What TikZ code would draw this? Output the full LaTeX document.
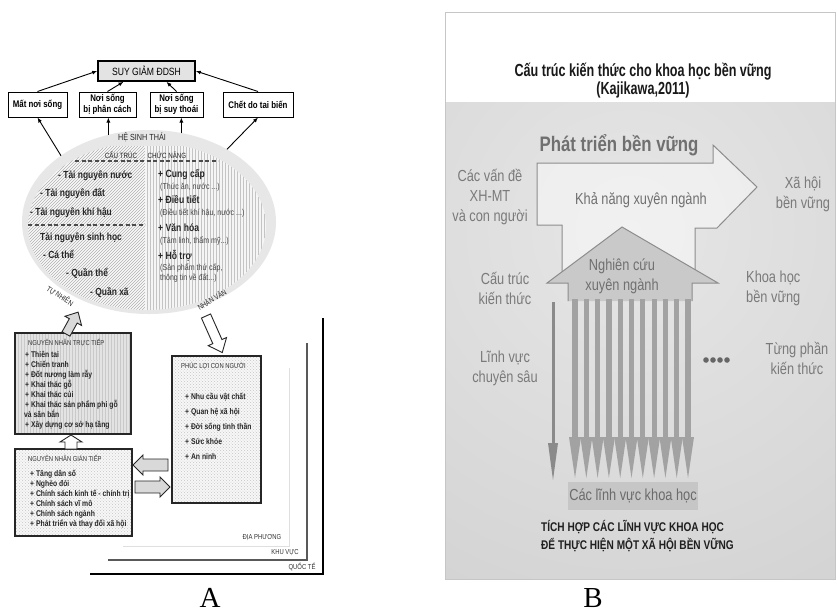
\documentclass[tikz,border=0pt]{standalone}
\usepackage{fontspec}
\setmainfont{Liberation Sans}
\newfontfamily\fa[FakeStretch=0.82]{Liberation Sans}
\newfontfamily\fb[FakeStretch=0.8]{Liberation Sans}
\newfontfamily\fc[FakeStretch=0.72]{Liberation Sans}
\newfontfamily\fser{Liberation Serif}
\usetikzlibrary{arrows.meta,patterns,shapes.geometric}
\newcommand\setsz[2]{\fontsize{#1}{#2}\selectfont}
% block arrow: tail x, tail y, angle, length, shaft width, head width, head length, style
\newcommand\blockarrow[8]{%
  \draw[#8, shift={(#1,#2)}, rotate=#3]
    (0,{-#5/2}) -- ({#4-#7},{-#5/2}) -- ({#4-#7},{-#6/2}) -- (#4,0)
    -- ({#4-#7},{#6/2}) -- ({#4-#7},{#5/2}) -- (0,{#5/2}) -- cycle;}
\definecolor{ellbg}{HTML}{E7E7E7}
\definecolor{hatchl}{HTML}{B0B0B0}
\definecolor{hatchr}{HTML}{C4C4C4}
\definecolor{bgin}{HTML}{E6E6E6}
\definecolor{bgout}{HTML}{C6C6C6}
\definecolor{btext}{HTML}{7A7A7A}
\definecolor{barc}{HTML}{A2A2A2}
\definecolor{sglc}{HTML}{8A8A8A}
\definecolor{housec}{HTML}{C9C9C9}
\definecolor{outl}{HTML}{8C8C8C}
\definecolor{labbox}{HTML}{C6C6C6}
\begin{document}
\begin{tikzpicture}[x=1pt,y=-1pt,
  conn/.style={-{Latex[length=5pt,width=4pt]}, line width=0.9pt},
  topbox/.style={draw, line width=1pt, fill=white, inner sep=0pt, align=center, minimum height=25, font=\fa\bfseries\setsz{9.6}{11.5}},
  itm/.style={anchor=west, inner sep=0pt, text height=6pt, text depth=1.5pt, font=\fa\bfseries\setsz{8.3}{10}, text=black!85},
  ttl/.style={anchor=west, inner sep=0pt, text height=5pt, text depth=0pt, font=\fa\setsz{7.1}{8}, text=black!80},
  ell/.style={anchor=west, inner sep=0pt, text height=7pt, text depth=2pt, font=\fa\bfseries\setsz{10.3}{12}, text=black!85},
  fn/.style={anchor=west, inner sep=0pt, text height=7pt, text depth=2pt, font=\fa\bfseries\setsz{10.5}{12}, text=black!85},
  fnsub/.style={anchor=west, inner sep=0pt, text height=6pt, text depth=1.5pt, font=\fa\setsz{8.6}{10}, text=black!72},
  hdr/.style={inner sep=0pt, text height=5.5pt, text depth=0pt, font=\fa\setsz{7.6}{8}, text=black!85},
  lvl/.style={inner sep=0pt, font=\fa\setsz{7.2}{8}, text=black!80},
  causebox/.style={draw=black!85, line width=1.1pt, inner sep=0pt},
  btxt/.style={inner sep=0pt, align=center, font=\fb\setsz{16}{20}, text=btext},
]
\useasboundingbox (0,0) rectangle (837,614);
\fill[white] (0,0) rectangle (837,614);

% ---------- A: scale frames ----------
\draw[gray!25, line width=1pt] (123,546) -- (289,546) -- (289,368);
\draw[black!65, line width=1.4pt] (108,560) -- (307,560) -- (307,343);
\draw[black, line width=1.8pt] (90,574) -- (323,574) -- (323,318);
\node[lvl] (loc) at (262,538) {ĐỊA PHƯƠNG};
\node[lvl] (reg) at (285,553) {KHU VỰC};
\node[lvl] (int) at (302,567) {QUỐC TẾ};

% ---------- A: ecosystem ellipse ----------
\node[ellipse, fill=ellbg, minimum width=254, minimum height=184, inner sep=0pt, outer sep=0pt] (eco) at (149,222) {};
\begin{scope}
  \clip (147,226) ellipse [x radius=119, y radius=84];
  \clip (0,146) rectangle (400,330);
  \fill[gray!4] (0,140) rectangle (145,330);
  \fill[pattern=north east lines, pattern color=hatchl] (0,140) rectangle (145,330);
  \fill[gray!8] (145,140) rectangle (300,330);
  \fill[pattern=vertical lines, pattern color=hatchr] (145,140) rectangle (300,330);
\end{scope}
\draw[black!70, line width=1.1pt, dash pattern=on 4pt off 2.5pt] (75,161) -- (218,161);
\draw[black!70, line width=1.1pt, dash pattern=on 4pt off 2.5pt] (28,225) -- (145,225);

\node[hdr, font=\fa\setsz{8.8}{9}] (hst) at (142,138) {HỆ SINH THÁI};
\node[hdr] (ct) at (121,156) {CẤU TRÚC};
\node[hdr] (cn) at (167,156) {CHỨC NĂNG};

\node[ell] (r1) at (58,176) {- Tài nguyên nước};
\node[ell] (r2) at (40,194) {- Tài nguyên đất};
\node[ell] (r3) at (30,213) {- Tài nguyên khí hậu};
\node[ell] (r4) at (40,238) {Tài nguyên sinh học};
\node[ell] (r5) at (43,256) {- Cá thể};
\node[ell] (r6) at (66,274) {- Quần thể};
\node[ell] (r7) at (90,293) {- Quần xã};

\node[fn] (f1) at (158,175) {+ Cung cấp};
\node[fnsub] (f1s) at (160,187) {(Thức ăn, nước ...)};
\node[fn] (f2) at (158,201) {+ Điều tiết};
\node[fnsub] (f2s) at (160,213) {(Điều tiết khí hậu, nước ...)};
\node[fn] (f3) at (158,229) {+ Văn hóa};
\node[fnsub] (f3s) at (160,241) {(Tâm linh, thẩm mỹ...)};
\node[fn] (f4) at (158,257) {+ Hỗ trợ};
\node[fnsub] (f4s) at (160,268) {(Sản phẩm thứ cấp,};
\node[fnsub] (f4t) at (160,278) {thông tin về đất...)};

\node[hdr, rotate=-33] (nat) at (60,296) {TỰ NHIÊN};
\node[hdr, rotate=32] (hum) at (212,300) {NHÂN VĂN};

% ---------- A: impacts ----------
\node[draw, line width=1.6pt, fill=gray!22, minimum width=97, minimum height=20, inner sep=0pt, font=\fa\setsz{10.5}{11}] (suy) at (146.5,71) {SUY GIẢM ĐDSH};
\node[topbox, minimum width=59] (b1) at (37.5,104.5) {Mất nơi sống};
\node[topbox, minimum width=57] (b2) at (107.5,104.5) {Nơi sống\\bị phân cách};
\node[topbox, minimum width=53] (b3) at (176.5,104.5) {Nơi sống\\bị suy thoái};
\node[topbox, minimum width=70] (b4) at (258,104.5) {Chết do tai biến};

\draw[conn] (b1.north) -- (suy.west);
\draw[conn] (b2.north) -- ([xshift=-23pt]suy.south);
\draw[conn] (b3.north) -- ([xshift=20pt]suy.south);
\draw[conn] (b4.north) -- (suy.east);

\draw[conn] (eco.143) -- (b1.south);
\draw[conn] (eco.115) -- (eco.115 |- b2.south);
\draw[conn] (eco.70) -- (eco.70 |- b3.south);
\draw[conn] (eco.43) -- (b4.south);

% ---------- A: causes and well-being ----------
\node[causebox, minimum width=116, minimum height=101, preaction={fill=gray!22}, pattern=vertical lines, pattern color=gray!42] (tt) at (73,383.5) {};
\node[ttl] (ttt) at (28,343) {NGUYÊN NHÂN TRỰC TIẾP};
\node[itm] at (25,355) {+ Thiên tai};
\node[itm] at (25,365) {+ Chiến tranh};
\node[itm] at (25,375) {+ Đốt nương làm rẫy};
\node[itm] at (25,385) {+ Khai thác gỗ};
\node[itm] at (25,395) {+ Khai thác củi};
\node[itm] at (25,405) {+ Khai thác sản phẩm phi gỗ};
\node[itm] at (24,415) {và săn bắn};
\node[itm] at (25,425) {+ Xây dựng cơ sở hạ tầng};

\node[causebox, minimum width=117, minimum height=87, preaction={fill=gray!6}, pattern=crosshatch dots, pattern color=gray!45] (gt) at (73.5,492.5) {};
\node[ttl] (gtt) at (28,459) {NGUYÊN NHÂN GIÁN TIẾP};
\node[itm] at (30,474) {+ Tăng dân số};
\node[itm] at (30,484) {+ Nghèo đói};
\node[itm] at (30,494) {+ Chính sách kinh tế - chính trị};
\node[itm] at (30,504) {+ Chính sách vĩ mô};
\node[itm] at (30,514) {+ Chính sách ngành};
\node[itm] at (30,524) {+ Phát triển và thay đổi xã hội};

\node[causebox, minimum width=89, minimum height=147, preaction={fill=gray!6}, pattern=crosshatch dots, pattern color=gray!45] (pl) at (216.5,429.5) {};
\node[ttl] (plt) at (181,366) {PHÚC LỢI CON NGƯỜI};
\node[itm] at (185,397) {+ Nhu cầu vật chất};
\node[itm] at (185,412) {+ Quan hệ xã hội};
\node[itm] at (185,427) {+ Đời sống tinh thần};
\node[itm] at (185,442) {+ Sức khỏe};
\node[itm] at (185,457) {+ An ninh};

% block arrows
\blockarrow{66}{334}{61}{25}{9}{19}{10}{draw=black!85, line width=0.9pt, fill=gray!30}
\blockarrow{206}{316}{-66}{40}{10}{20}{12}{draw=black!85, line width=0.9pt, fill=white}
\blockarrow{71}{449}{90}{14}{12}{22}{7}{draw=black!85, line width=0.9pt, fill=white}
\blockarrow{168}{465}{180}{35}{12}{20}{10}{draw=black!85, line width=0.9pt, fill=gray!30}
\blockarrow{135}{487}{0}{35}{12}{20}{10}{draw=black!85, line width=0.9pt, fill=gray!30}

\node[font=\fser\setsz{29}{30}, inner sep=0pt] (labA) at (210,598) {A};

% ---------- B: panel ----------
\begin{scope}
  \clip (445,102) rectangle (835,579);
  \shade[inner color=bgin, outer color=bgout] (630,230) circle (700);
\end{scope}
\draw[gray!45, line width=0.8pt] (445,12) rectangle (835,579);

\node[inner sep=0pt, font=\fc\bfseries\setsz{17.5}{20}, text=black!90] (title) at (643,72) {Cấu trúc kiến thức cho khoa học bền vững};
\node[inner sep=0pt, font=\fc\bfseries\setsz{17.5}{20}, text=black!90] (cite) at (643,90) {(Kajikawa,2011)};

% sustainable development arrow
\draw[outl, line width=1pt, fill=white, fill opacity=0.45]
  (537,163) -- (713,163) -- (713,145) -- (757,187) -- (717,228) -- (695,228)
  -- (695,276) -- (562,276) -- (562,225) -- (537,225) -- cycle;
\node[inner sep=0pt, font=\fb\bfseries\setsz{21}{24}, text=black!56] (sd) at (619,145) {Phát triển bền vững};

% transdisciplinary house
\fill[housec] (568,301) -- (568,283) -- (547,283) -- (622,227) -- (718,283) -- (692,283) -- (692,301) -- cycle;
\draw[outl, line width=1pt] (568,301) -- (568,283) -- (547,283) -- (622,227) -- (718,283) -- (692,283) -- (692,301);

% discipline arrows
\foreach \i in {0,...,10} {
  \pgfmathsetmacro\bx{575+11.3*\i}
  \fill[barc] (\bx-2.6,299) rectangle (\bx+2.6,438);
  \fill[barc] (\bx-6,437) -- (\bx+6,437) -- (\bx,478) -- cycle;
}
\fill[sglc] (551.5,302) rectangle (554.5,445);
\fill[sglc] (548,443) -- (558,443) -- (553,480) -- cycle;
\foreach \dx in {706,713,720,727} \fill[black!60] (\dx,360) circle (2.8);

\node[btxt] (issues) at (490,197) {Các vấn đề\\XH-MT\\và con người};
\node[btxt, text=black!56] (cap) at (641,200) {Khả năng xuyên ngành};
\node[btxt] (soc) at (803,194) {Xã hội\\bền vững};
\node[btxt, text=black!56] (tdr) at (622,276) {Nghiên cứu\\xuyên ngành};
\node[btxt] (ks) at (505,288) {Cấu trúc\\kiến thức};
\node[btxt, anchor=west, align=left] (ss) at (746,288) {Khoa học\\bền vững};
\node[btxt] (spec) at (505,368) {Lĩnh vực\\chuyên sâu};
\node[btxt] (part) at (797,358) {Từng phần\\kiến thức};

\node[fill=labbox, minimum width=130, minimum height=28, inner sep=0pt, font=\fb\setsz{16}{20}, text=black!58] (fields) at (633,496) {Các lĩnh vực khoa học};
\node[anchor=west, align=left, inner sep=0pt, font=\fb\bfseries\setsz{12.6}{18}, text=black!88] (goal) at (541,536) {TÍCH HỢP CÁC LĨNH VỰC KHOA HỌC\\ĐỂ THỰC HIỆN MỘT XÃ HỘI BỀN VỮNG};

\node[font=\fser\setsz{29}{30}, inner sep=0pt] (labB) at (593,598) {B};
\end{tikzpicture}
\end{document}
